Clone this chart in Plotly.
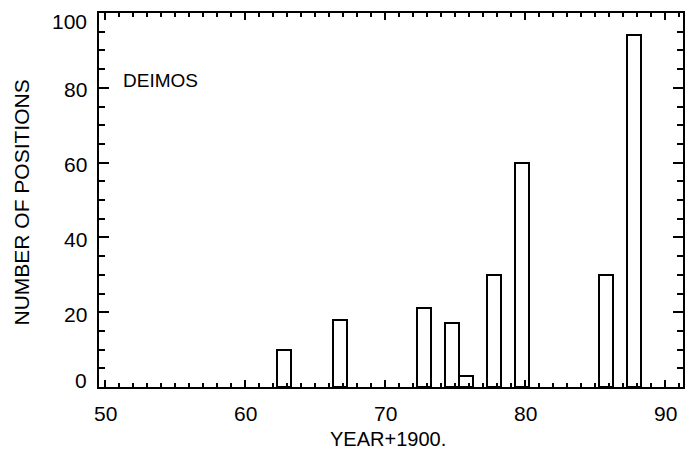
import plotly.graph_objects as go

# Observation counts of Deimos per year (years since 1900)
years = [63, 67, 73, 75, 76, 78, 80, 86, 88]
positions = [10, 18, 21, 17, 3, 30, 60, 30, 94]

x_ticks = [50, 60, 70, 80, 90]
y_ticks = [0, 20, 40, 60, 80, 100]

FONT = "Liberation Sans, Arial, sans-serif"
W, H = 687, 449
L, R, T, B = 99, 4, 13, 62

fig = go.Figure()
fig.add_trace(go.Bar(
    x=years,
    y=positions,
    width=1.0,
    offset=-0.73,
    marker=dict(color="white", line=dict(color="black", width=2)),
    showlegend=False,
))

fig.update_xaxes(
    showgrid=False, zeroline=False, showline=True, linecolor="black", linewidth=2,
    mirror="allticks", ticks="inside", tickcolor="black", tickwidth=1.5,
    range=[49.571, 91.286], tickvals=x_ticks, ticklen=7, showticklabels=False,
    minor=dict(dtick=1, tick0=0, ticks="inside", ticklen=4, tickcolor="black", tickwidth=1.5),
)
fig.update_yaxes(
    showgrid=False, zeroline=False, showline=True, linecolor="black", linewidth=2,
    mirror="allticks", ticks="inside", tickcolor="black", tickwidth=1.5,
    range=[0, 100], tickvals=y_ticks, ticklen=10, showticklabels=False,
    minor=dict(dtick=5, tick0=0, ticks="inside", ticklen=6, tickcolor="black", tickwidth=1.5),
)

label_font = dict(family=FONT, size=21, color="black")
annotations = []

# x tick labels, placed below the axis at each tick value
for v in x_ticks:
    annotations.append(dict(
        x=v, xref="x", xanchor="center",
        y=0, yref="paper", yshift=-26, yanchor="middle",
        text=str(v), showarrow=False, font=label_font,
    ))

# y tick labels; the end labels are pulled inside the axis span
for v in y_ticks:
    if v == min(y_ticks):
        shift = 7
    elif v == max(y_ticks):
        shift = -8
    else:
        shift = -2
    annotations.append(dict(
        x=0, xref="paper", xshift=-10, xanchor="right",
        y=v, yref="y", yshift=shift, yanchor="middle",
        text=str(v), showarrow=False, font=label_font,
    ))

plot_w = W - L - R
plot_h = H - T - B
annotations += [
    dict(text="NUMBER OF POSITIONS", textangle=-90, showarrow=False,
         xref="paper", yref="paper", x=(21 - L) / plot_w, y=(H - B - 202.5) / plot_h,
         xanchor="center", yanchor="middle",
         font=dict(family=FONT, size=21, color="black")),
    dict(text="YEAR+1900.", showarrow=False,
         xref="paper", yref="paper", x=(388 - L) / plot_w, y=(H - B - 438.5) / plot_h,
         xanchor="center", yanchor="middle",
         font=dict(family=FONT, size=20, color="black")),
    dict(text="DEIMOS", showarrow=False,
         xref="paper", yref="paper", x=(121 - L) / plot_w, y=(H - B - 80.5) / plot_h,
         xanchor="left", yanchor="middle",
         font=dict(family=FONT, size=19, color="black")),
]

fig.update_layout(
    width=W, height=H,
    margin=dict(l=L, r=R, t=T, b=B, autoexpand=False),
    plot_bgcolor="white",
    paper_bgcolor="white",
    bargap=0,
    annotations=annotations,
)

fig.write_html("out.html")
